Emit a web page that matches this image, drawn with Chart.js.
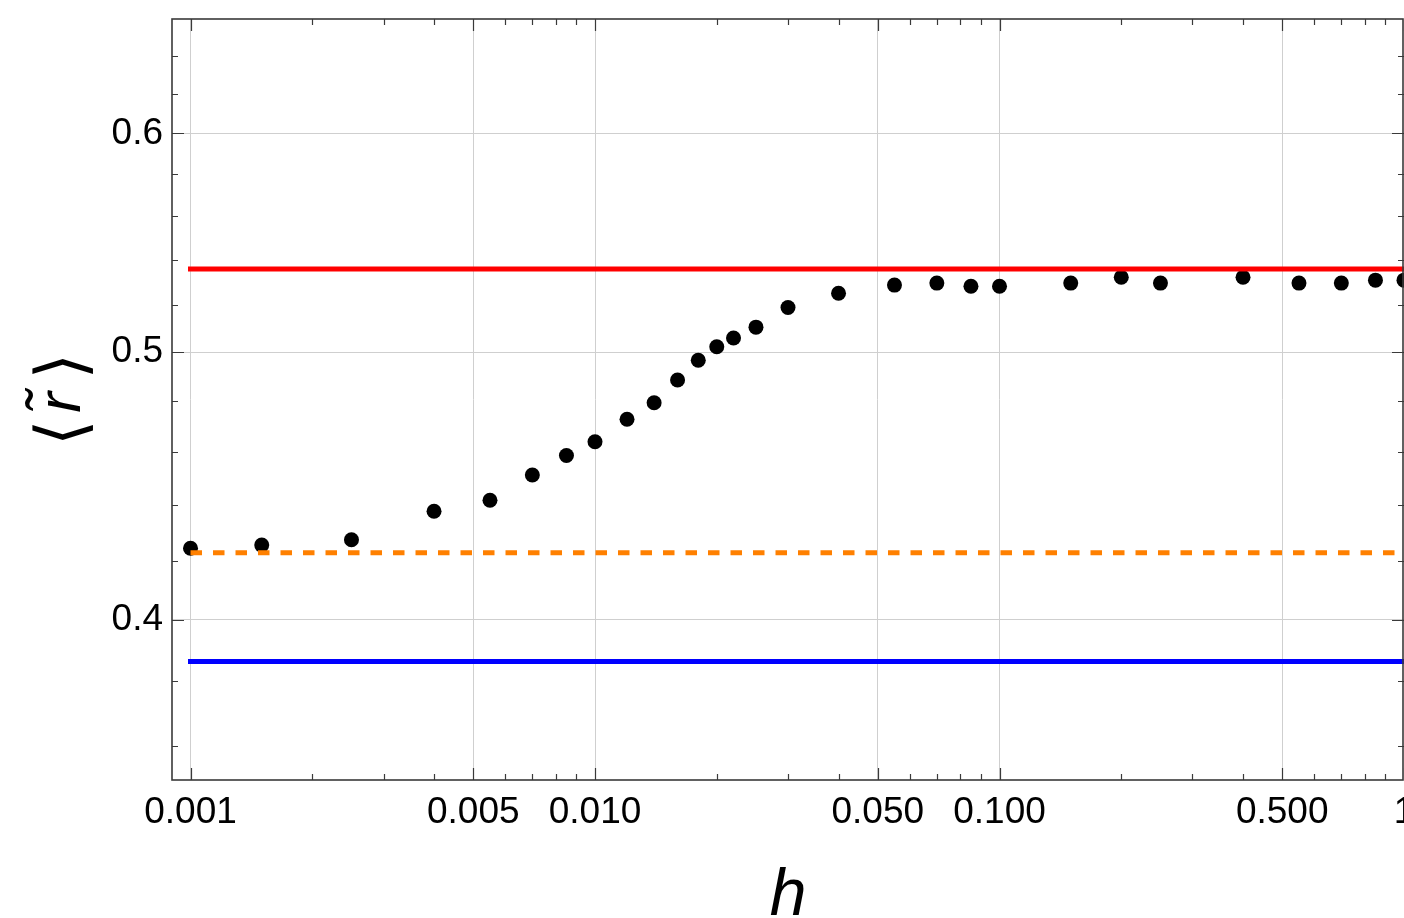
<!DOCTYPE html>
<html>
<head>
<meta charset="utf-8">
<script src="https://cdn.jsdelivr.net/npm/chart.js@4.4.1/dist/chart.umd.min.js"></script>
<style>
  html, body { margin: 0; padding: 0; background: #fff; }
  #wrap { width: 1404px; height: 918px; }
</style>
</head>
<body>
<div id="wrap"><canvas id="ratioChart" width="1404" height="918"></canvas></div>
<script>
    "use strict";

    // mean gap ratio <r~> against field strength h
    var hValues = [0.001, 0.0015, 0.0025, 0.004, 0.0055, 0.007, 0.0085, 0.01, 0.012, 0.014,
        0.016, 0.018, 0.02, 0.022, 0.025, 0.03, 0.04, 0.055, 0.07, 0.085,
        0.1, 0.15, 0.2, 0.25, 0.4, 0.55, 0.7, 0.85, 1.0];
    var rValues = [0.4246, 0.4257, 0.4276, 0.4379, 0.4419, 0.4513, 0.4587, 0.4640, 0.4728, 0.4793,
        0.4885, 0.4966, 0.5022, 0.5059, 0.5105, 0.5189, 0.5251, 0.5287, 0.5296, 0.5282,
        0.5282, 0.5296, 0.5322, 0.5296, 0.5322, 0.5296, 0.5296, 0.5309, 0.5309];

    // reference levels
    var goeLevel = 0.5359;
    var poissonLevel = 0.3863;
    var dashedLevel = 0.423;
    var levelRange = [0.001, 1];

    var xTicks = [0.001, 0.005, 0.01, 0.05, 0.1, 0.5, 1];
    var xTickLabels = ['0.001', '0.005', '0.010', '0.050', '0.100', '0.500', '1'];
    var xMinorTicks = [0.002, 0.003, 0.004, 0.006, 0.007, 0.008, 0.009, 0.02, 0.03, 0.04,
        0.06, 0.07, 0.08, 0.09, 0.2, 0.3, 0.4, 0.6, 0.7, 0.8, 0.9];
    var yTicks = [0.4, 0.5, 0.6];
    var yTickLabels = ['0.4', '0.5', '0.6'];
    var yMinorTicks = [0.36, 0.38, 0.42, 0.44, 0.46, 0.48, 0.52, 0.54, 0.56, 0.58, 0.62, 0.64];

    var xTitle = 'h';
    var yTitleParts = ['\u27E8', 'r\u0303', '\u27E9'];

    var FONT = "'Liberation Sans', Arial, 'DejaVu Sans', sans-serif";
    var GRID = '#cfcfcf';
    var FRAME = '#3a3a3a';

    function levelLine(value, color, dash) {
        return {
            type: 'line',
            data: [{ x: levelRange[0], y: value }, { x: levelRange[1], y: value }],
            showLine: true,
            borderColor: color,
            borderWidth: 5,
            borderDash: dash || [],
            borderCapStyle: dash ? 'butt' : 'square',
            pointRadius: 0,
            order: 1
        };
    }

    // frame with inward ticks on all four sides
    var frameTicks = {
        id: 'frameTicks',
        afterDatasetsDraw: function (chart) {
            var ctx = chart.ctx;
            var a = chart.chartArea;
            var xs = chart.scales.x;
            var ys = chart.scales.y;
            ctx.save();
            ctx.strokeStyle = FRAME;
            ctx.lineWidth = 1.2;
            ctx.beginPath();
            function xTick(v, len) {
                var px = Math.round(xs.getPixelForValue(v)) + 0.5;
                ctx.moveTo(px, a.bottom);
                ctx.lineTo(px, a.bottom - len);
                ctx.moveTo(px, a.top);
                ctx.lineTo(px, a.top + len);
            }
            function yTick(v, len) {
                var py = Math.round(ys.getPixelForValue(v)) + 0.5;
                ctx.moveTo(a.left, py);
                ctx.lineTo(a.left + len, py);
                ctx.moveTo(a.right, py);
                ctx.lineTo(a.right - len, py);
            }
            xTicks.forEach(function (v) { xTick(v, 12); });
            xMinorTicks.forEach(function (v) { xTick(v, 6); });
            yTicks.forEach(function (v) { yTick(v, 12); });
            yMinorTicks.forEach(function (v) { yTick(v, 6); });
            ctx.stroke();
            ctx.lineWidth = 1.6;
            ctx.strokeRect(a.left, a.top, a.right - a.left - 1, a.bottom - a.top);
            ctx.restore();
        }
    };

    // y title: tall upright brackets around an italic r with tilde
    var yTitle = {
        id: 'yTitle',
        afterDraw: function (chart) {
            var ctx = chart.ctx;
            var a = chart.chartArea;
            var cy = (a.top + a.bottom) / 2;
            ctx.save();
            ctx.translate(80, cy);
            ctx.rotate(-Math.PI / 2);
            ctx.fillStyle = '#000';
            ctx.textAlign = 'left';
            ctx.textBaseline = 'alphabetic';

            // size the brackets so they stand about 61px tall
            ctx.font = '100px ' + FONT;
            var probe = ctx.measureText(yTitleParts[0]);
            var probeH = probe.actualBoundingBoxAscent + probe.actualBoundingBoxDescent;
            var bracketSize = Math.round(100 * 61 / probeH);
            var bracketFont = bracketSize + 'px ' + FONT;
            var rFont = 'italic 62px ' + FONT;

            function drawCentered(text, font, cx, midY) {
                ctx.font = font;
                var m = ctx.measureText(text);
                var x = cx - (m.actualBoundingBoxRight - m.actualBoundingBoxLeft) / 2;
                var y = midY === null ? 0 :
                    midY + (m.actualBoundingBoxAscent - m.actualBoundingBoxDescent) / 2;
                ctx.fillText(text, x, y);
            }
            drawCentered(yTitleParts[0], bracketFont, -32.5, -17.5);
            drawCentered(yTitleParts[1], rFont, 0, null);
            drawCentered(yTitleParts[2], bracketFont, 33, -17.5);
            ctx.restore();
        }
    };

    var points = hValues.map(function (h, i) {
        return { x: h, y: rValues[i] };
    });

    var ctx = document.getElementById('ratioChart').getContext('2d');
    new Chart(ctx, {
        type: 'scatter',
        data: {
            datasets: [
                levelLine(goeLevel, '#ff0000'),
                levelLine(dashedLevel, '#ff8000', [11.5, 11]),
                levelLine(poissonLevel, '#0000ff'),
                {
                    data: points,
                    backgroundColor: '#000000',
                    borderWidth: 0,
                    pointRadius: 7.5,
                    pointHoverRadius: 7.5,
                    order: 2
                }
            ]
        },
        options: {
            responsive: false,
            animation: false,
            devicePixelRatio: 1,
            layout: {
                autoPadding: false,
                padding: { top: 19, right: 0, bottom: 0, left: 0 }
            },
            plugins: {
                legend: { display: false },
                tooltip: { enabled: false }
            },
            scales: {
                x: {
                    type: 'logarithmic',
                    min: 0.0009,
                    max: 1,
                    afterBuildTicks: function (scale) {
                        scale.ticks = xTicks.map(function (v) { return { value: v }; });
                    },
                    afterFit: function (scale) {
                        scale.height = 138;
                        scale.paddingLeft = 0;
                        scale.paddingRight = 0;
                    },
                    grid: { color: GRID, lineWidth: 1, drawTicks: false },
                    border: { display: false },
                    ticks: {
                        autoSkip: false,
                        maxRotation: 0,
                        padding: 11,
                        color: '#000',
                        font: { family: FONT, size: 37 },
                        callback: function (value, index) {
                            return xTickLabels[index];
                        }
                    },
                    title: {
                        display: true,
                        text: xTitle,
                        color: '#000',
                        font: { family: FONT, size: 66, style: 'italic', lineHeight: 0.5 },
                        padding: { top: 0, bottom: 5 }
                    }
                },
                y: {
                    type: 'logarithmic',
                    min: 0.35,
                    max: 0.66,
                    afterBuildTicks: function (scale) {
                        scale.ticks = yTicks.map(function (v) { return { value: v }; });
                    },
                    afterFit: function (scale) {
                        scale.width = 172;
                        scale.paddingTop = 0;
                        scale.paddingBottom = 0;
                    },
                    grid: { color: GRID, lineWidth: 1, drawTicks: false },
                    border: { display: false },
                    ticks: {
                        autoSkip: false,
                        padding: 9,
                        color: '#000',
                        font: { family: FONT, size: 37 },
                        callback: function (value, index) {
                            return yTickLabels[index];
                        }
                    }
                }
            }
        },
        plugins: [frameTicks, yTitle]
    });
</script>
</body>
</html>
